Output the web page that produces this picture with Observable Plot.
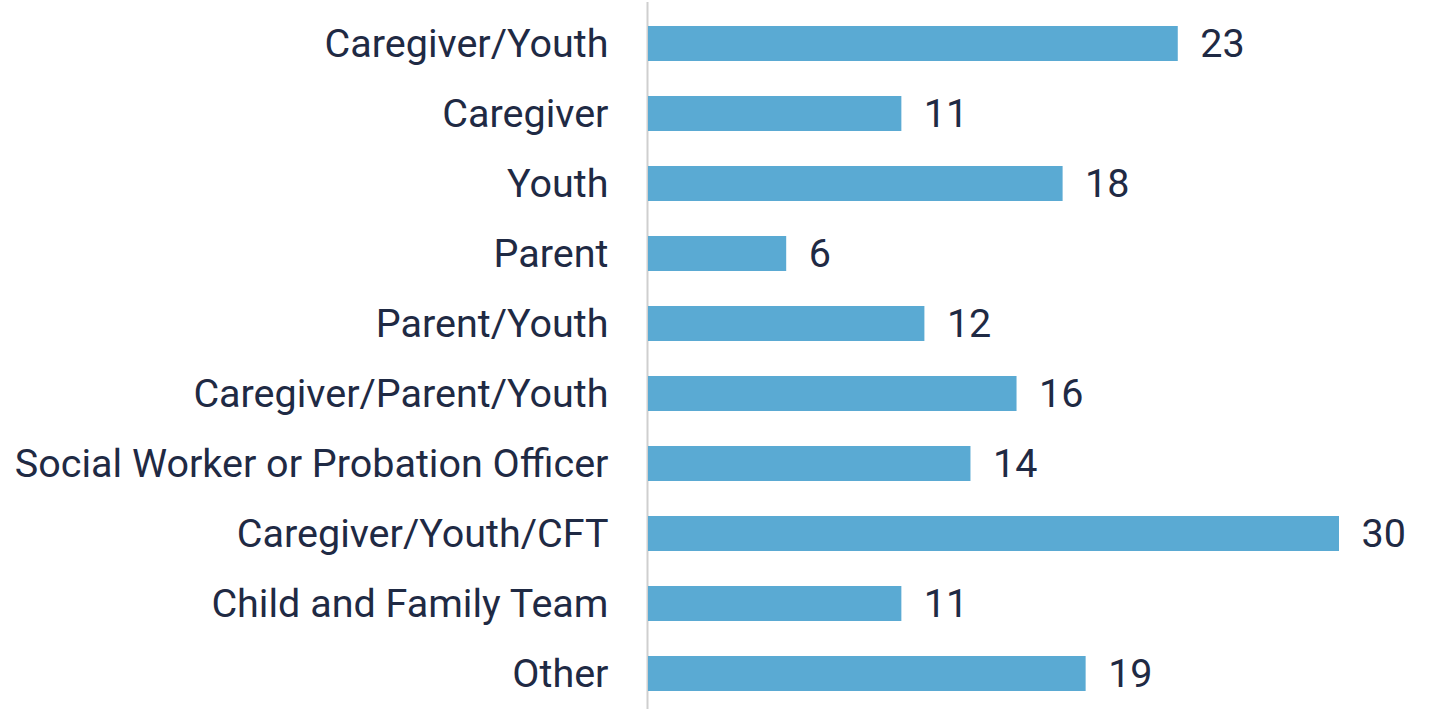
<!DOCTYPE html>
<html>
<head>
<meta charset="utf-8">
<script src="https://cdn.jsdelivr.net/npm/d3@7"></script>
<script src="https://cdn.jsdelivr.net/npm/@observablehq/plot@0.6"></script>
<style>
  html, body { margin: 0; padding: 0; background: #ffffff; }
  #chart svg { display: block; }
</style>
</head>
<body>
<div id="chart"></div>
<script>
const categories = [
  "Caregiver/Youth",
  "Caregiver",
  "Youth",
  "Parent",
  "Parent/Youth",
  "Caregiver/Parent/Youth",
  "Social Worker or Probation Officer",
  "Caregiver/Youth/CFT",
  "Child and Family Team",
  "Other"
];
const values = [23, 11, 18, 6, 12, 16, 14, 30, 11, 19];

const data = categories.map((c, i) => ({category: c, value: values[i]}));

const textColor = "#1f2a44";
const barColor = "#5aaad3";

const chart = Plot.plot({
  width: 1432,
  height: 709,
  marginLeft: 648,
  marginRight: 93,
  marginTop: 7,
  marginBottom: 0,
  style: {fontFamily: "Roboto, sans-serif", fontSize: "39.5px", color: textColor, background: "#ffffff"},
  x: {domain: [0, 30], axis: null},
  y: {domain: categories, paddingInner: 0.5, paddingOuter: 0.25, label: null, axis: null},
  marks: [
    Plot.ruleX([0], {stroke: "#cfcfcf", strokeWidth: 2, dx: -1, insetTop: -5}),
    Plot.barX(data, {x: "value", y: "category", fill: barColor}),
    Plot.text(data, {x: "value", y: "category", text: d => String(d.value), textAnchor: "start", dx: 22, fill: textColor, fontSize: 39.5}),
    Plot.axisY({tickSize: 0, tickPadding: 40, fontSize: 39.5, fill: textColor, label: null})
  ]
});
document.getElementById("chart").appendChild(chart);
</script>
</body>
</html>
